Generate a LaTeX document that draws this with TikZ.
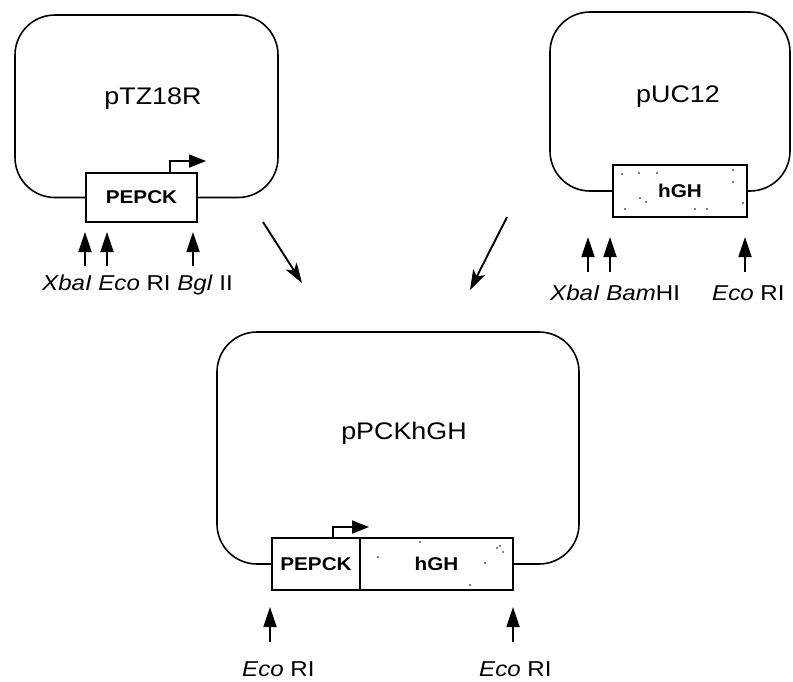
\documentclass[tikz,border=0pt]{standalone}
\usepackage{fontspec}
\setmainfont{Liberation Sans}[FakeStretch=1.12]
\usetikzlibrary{arrows.meta}
\begin{document}
\begin{tikzpicture}[x=1pt,y=-1pt,
  plasmid/.style={line width=1.6pt, rounded corners=40pt},
  gene/.style={draw, line width=2.4pt, fill=white, inner sep=0pt, font=\fontsize{18.5}{20}\selectfont\bfseries},
  sitearrow/.style={-{Triangle[length=20pt,width=13pt]}, line width=1.8pt},
  react/.style={-{Stealth[length=20pt,width=13pt,inset=5pt]}, line width=1.9pt},
  prom/.style={-{Triangle[length=17pt,width=13pt]}, line width=1.8pt},
  title/.style={font=\fontsize{24}{26}\selectfont},
  sitelabel/.style={font=\fontsize{21.5}{24}\selectfont, inner sep=0pt, anchor=base west},
  speck/.style={fill=black, inner sep=0pt, minimum size=1.6pt, circle}
]
\useasboundingbox (0,0) rectangle (793,681);

% ---------- pTZ18R ----------
\node[gene, minimum width=111pt, minimum height=49pt] (pepA) at (141.5,197.5) {PEPCK};
\draw[plasmid] (pepA.west) -- (15,197.5) -- (15,15) -- (278,15) -- (278,197.5) -- (pepA.east);
\node[title] (tA) at (153,99) {pTZ18R};
\coordinate (pA) at (206,161);
\draw[prom] ([xshift=28.5pt]pepA.north) |- (pA);

\coordinate (xA0) at (85,266);  \coordinate (xA1) at (85,232);
\coordinate (eA0) at (107,266); \coordinate (eA1) at (107,232);
\coordinate (bA0) at (193,266); \coordinate (bA1) at (193,232);
\draw[sitearrow] (xA0) -- (xA1);
\draw[sitearrow] (eA0) -- (eA1);
\draw[sitearrow] (bA0) -- (bA1);
\node[sitelabel] (lA) at (42,290) {\textit{XbaI} \textit{Eco} RI \textit{Bgl} II};

% ---------- pUC12 ----------
\node[gene, minimum width=134pt, minimum height=52pt] (hB) at (680,191) {hGH};
\draw[plasmid] (hB.west) -- (550,191) -- (550,12) -- (790,12) -- (790,191) -- (hB.east);
\node[title] (tB) at (678,97) {pUC12};
\foreach \p in {(622,174),(639,173),(657,173),(733,170),(733,182),(625,209),(695,209),(707,209),(743,203),(640,198),(646,202)}
  \node[speck] at \p {};

\coordinate (xB0) at (588,272); \coordinate (xB1) at (588,237);
\coordinate (mB0) at (610,272); \coordinate (mB1) at (610,237);
\coordinate (eB0) at (745,272); \coordinate (eB1) at (745,237);
\draw[sitearrow] (xB0) -- (xB1);
\draw[sitearrow] (mB0) -- (mB1);
\draw[sitearrow] (eB0) -- (eB1);
\node[sitelabel] (lB1) at (550,300) {\textit{XbaI} \textit{Bam}HI};
\node[sitelabel] (lB2) at (712,300) {\textit{Eco} RI};

% ---------- reaction arrows ----------
\coordinate (r1s) at (263,222); \coordinate (r1e) at (302,283);
\coordinate (r2s) at (507,217); \coordinate (r2e) at (470,290);
\draw[react] (r1s) -- (r1e);
\draw[react] (r2s) -- (r2e);

% ---------- pPCKhGH ----------
\node[gene, minimum width=88pt, minimum height=52pt] (pepC) at (316,564) {PEPCK};
\node[gene, minimum width=153pt, minimum height=52pt] (hC) at (436.5,564) {hGH};
\draw[plasmid] (pepC.west) -- (217,564) -- (217,332) -- (579,332) -- (579,564) -- (hC.east);
\node[title] (tC) at (404,433) {pPCKhGH};
\coordinate (pC) at (369,527);
\draw[prom] ([xshift=17pt]pepC.north) |- (pC);
\foreach \p in {(378,557),(485,563),(497,548),(503,552),(500,546),(420,542),(470,585)}
  \node[speck] at \p {};

\coordinate (eC0) at (270,642); \coordinate (eC1) at (270,607);
\coordinate (fC0) at (513,642); \coordinate (fC1) at (513,607);
\draw[sitearrow] (eC0) -- (eC1);
\draw[sitearrow] (fC0) -- (fC1);
\node[sitelabel] (lC1) at (242,676) {\textit{Eco} RI};
\node[sitelabel] (lC2) at (479,676) {\textit{Eco} RI};
\end{tikzpicture}
\end{document}
